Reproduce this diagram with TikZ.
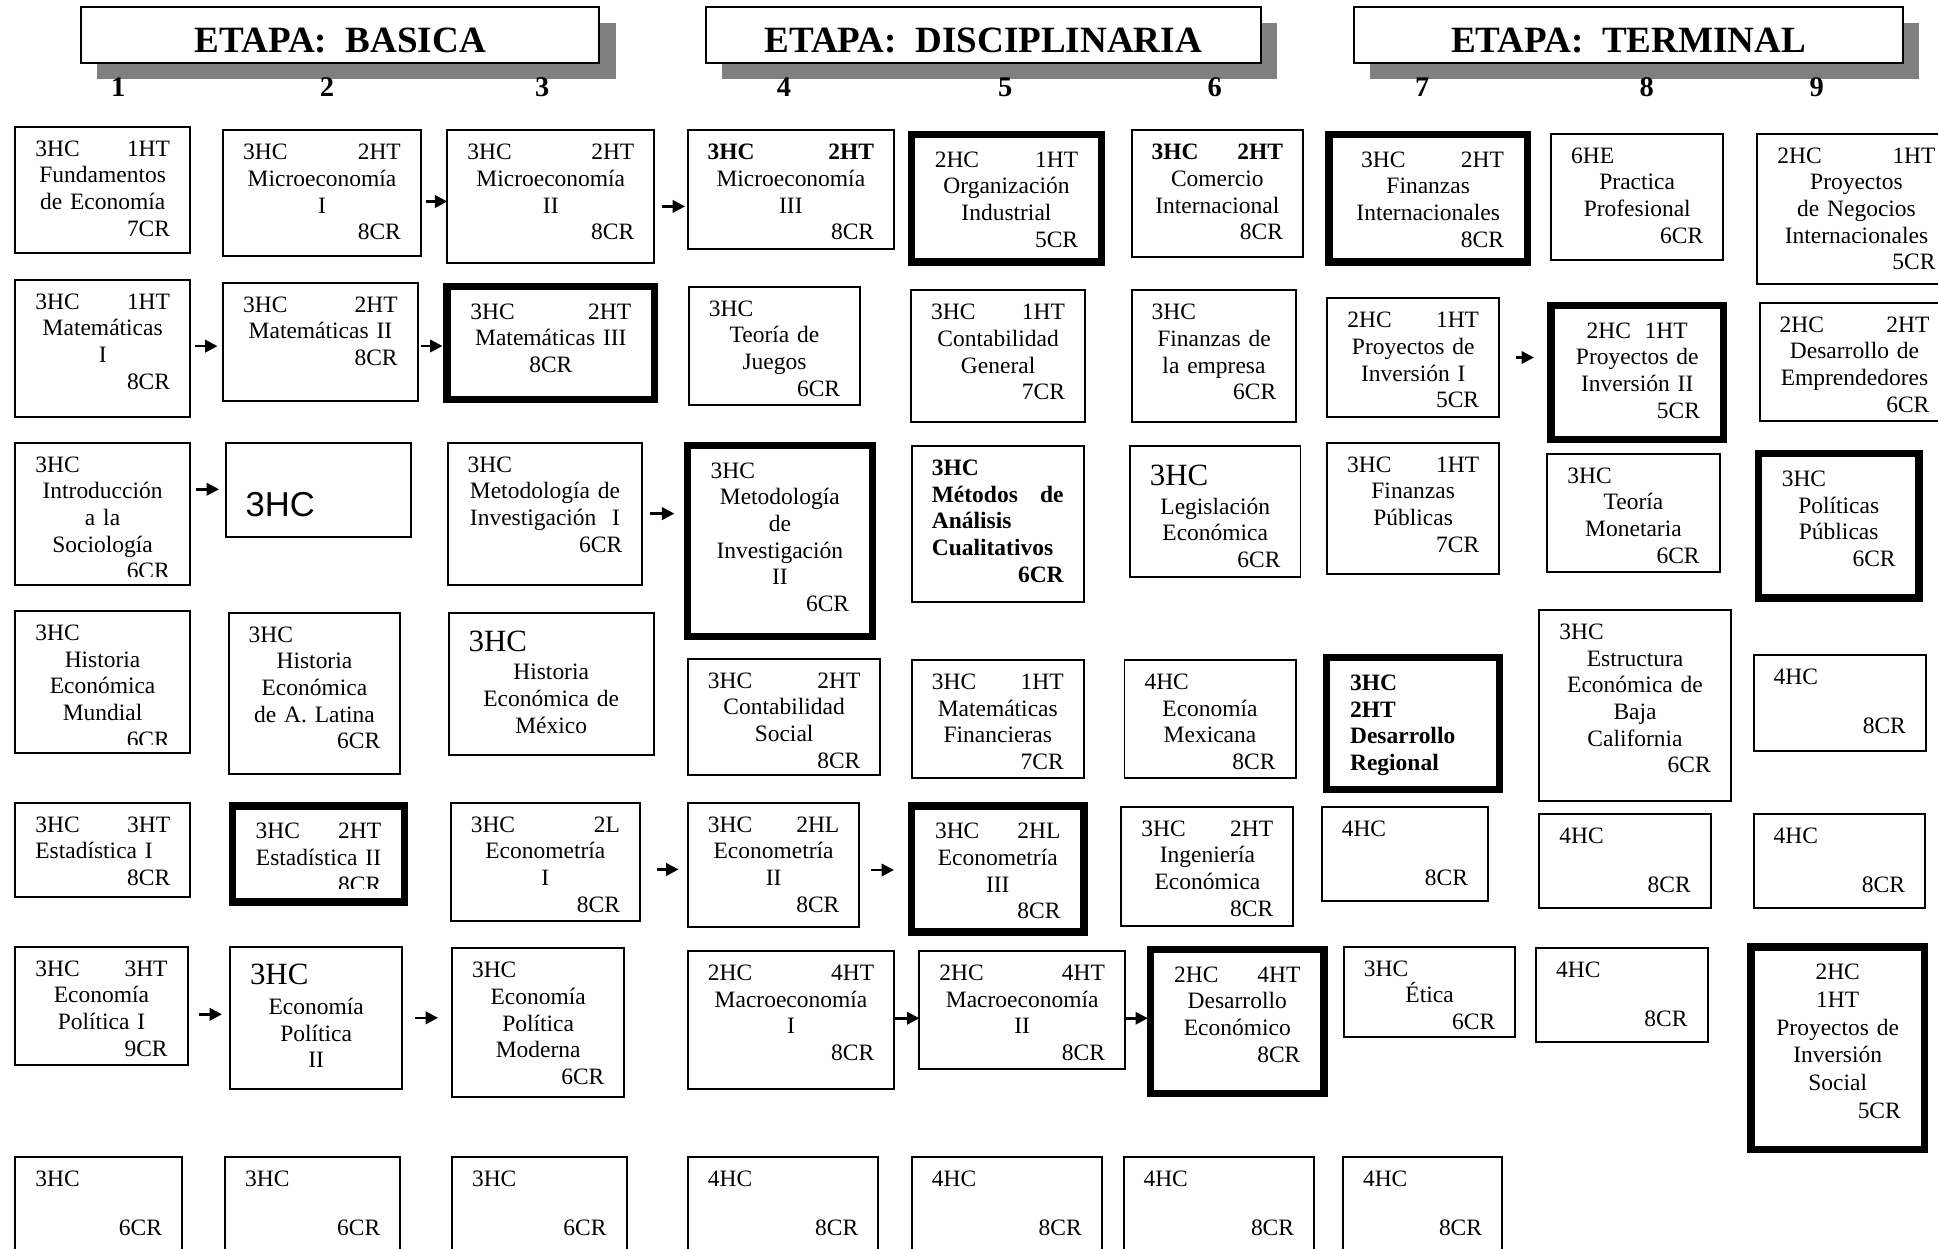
\documentclass[tikz,border=0pt]{standalone}
\usepackage{fontspec}
\setmainfont{Liberation Serif}
\setsansfont{Liberation Sans}
\usetikzlibrary{arrows.meta,shadows}
\definecolor{shadowgray}{gray}{0.5}
\hyphenpenalty=10000
\exhyphenpenalty=10000
\begin{document}
\begin{tikzpicture}[x=1pt, y=1pt,
  etapa/.style={draw, line width=1.6pt, fill=white, anchor=north west, inner sep=0pt,
    minimum height=45.3pt, text height=29pt, text depth=0pt,
    font=\bfseries\fontsize{30}{30}\selectfont,
    drop shadow={shadow xshift=13pt, shadow yshift=-13pt, fill=shadowgray, opacity=1}},
  sem/.style={anchor=base, inner sep=0pt, font=\bfseries\fontsize{23}{23}\selectfont},
  crs/.style={draw, line width=1.6pt, fill=white, anchor=north west, inner sep=0pt, outer sep=0pt,
    /utils/exec={\def\crspad{16.2pt}\def\crsdrop{11.3pt}\def\crsclip{6.5pt}}},
  heavy/.style={line width=6pt, /utils/exec={\def\crspad{19pt}\def\crsdrop{13.9pt}\def\crsclip{11pt}}},
  txt/.style={anchor=north, align=center, inner sep=0pt, outer sep=0pt, draw=none, fill=none,
    minimum width=0pt, minimum height=0pt, font=\fontsize{19}{21.6}\selectfont},
  course/.style n args={3}{crs, minimum width=#1, minimum height=#2,
    path picture={
      \pgfmathsetlengthmacro{\crstw}{#1-2*\crspad}
      \clip ([yshift=\crsclip]path picture bounding box.south west) rectangle (path picture bounding box.north east);
      \node[txt, text width=\crstw] at ([yshift=-\crsdrop]path picture bounding box.north) {#3};}},
  arr/.style={-{Triangle[length=10pt, width=10pt]}, line width=2pt}]

  \path[use as bounding box, fill=white] (0,0) rectangle (1568,-1010);

  \node[etapa, minimum width=419.4pt] (hdA) at (64.8,-4.6) {ETAPA:~~BASICA};
  \node[etapa, minimum width=449.1pt] (hdB) at (570.1,-4.6) {ETAPA:~~DISCIPLINARIA};
  \node[etapa, minimum width=444.8pt] (hdC) at (1094.4,-4.6) {ETAPA:~~TERMINAL};

  \node[sem] (s1) at (95.7,-77.7) {1};
  \node[sem] (s2) at (264.5,-77.7) {2};
  \node[sem] (s3) at (438.8,-77.7) {3};
  \node[sem] (s4) at (634.3,-77.7) {4};
  \node[sem] (s5) at (813.4,-77.7) {5};
  \node[sem] (s6) at (982.8,-77.7) {6};
  \node[sem] (s7) at (1150.6,-77.7) {7};
  \node[sem] (s8) at (1332.3,-77.7) {8};
  \node[sem] (s9) at (1469.8,-77.7) {9};

  \node[course={141.4pt}{102.2pt}{3HC\hfill 1HT\hspace*{6pt}\\ Fundamentos\\ de Economía\\ \mbox{}\hfill 7CR}] (fe) at (12.4,-102.5) {};
  \node[course={159.9pt}{102pt}{3HC\hfill 2HT\\ Microeconomía\\ I\\ \mbox{}\hfill 8CR}] (mi1) at (180.6,-105.4) {};
  \node[course={167.5pt}{107.4pt}{3HC\hfill 2HT\\ Microeconomía\\ II\\ \mbox{}\hfill 8CR}] (mi2) at (361.9,-105.4) {};
  \node[course={167.1pt}{96.1pt}{\textbf{3HC}\hfill\textbf{2HT}\hspace*{29pt}\\ Microeconomía\\ III\\ \mbox{}\hfill 8CR}] (mi3) at (556.3,-105.4) {};
  \node[course={154pt}{103.2pt}{2HC\hfill 1HT\\ Organización\\ Industrial\\ \mbox{}\hfill 5CR}, heavy] (oi) at (737.3,-108.7) {};
  \node[course={138.6pt}{102.8pt}{\textbf{3HC}\hfill\textbf{2HT}\\ Comercio\\ Internacional\\ \mbox{}\hfill 8CR}] (ci) at (915.6,-105.4) {};
  \node[course={160.6pt}{103.2pt}{\hspace*{7pt}3HC\hfill 2HT\hspace*{8pt}\\ Finanzas\\ Internacionales\\ \mbox{}\hfill 8CR}, heavy] (fi) at (1075.2,-108.7) {};
  \node[course={139.3pt}{102.3pt}{6HE\hfill\null\\ Practica\\ Profesional\\ \mbox{}\hfill 6CR}] (pp) at (1255,-108.1) {};
  \node[course={160.3pt}{121.7pt}{2HC\hfill 1HT\\ Proyectos\\ de Negocios\\ Internacionales\\ \mbox{}\hfill 5CR}] (pn) at (1421.9,-108.1) {};

  \node[course={141.4pt}{110.9pt}{3HC\hfill 1HT\hspace*{10pt}\\ Matemáticas\\ I\\ \mbox{}\hfill 8CR}] (ma1) at (12.4,-226.3) {};
  \node[course={157.3pt}{95.5pt}{3HC\hfill 2HT\\ Matemáticas~II\\ \mbox{}\hfill 8CR}] (ma2) at (180.6,-228.7) {};
  \node[course={168.1pt}{91.6pt}{3HC\hfill 2HT\\ Matemáticas~III\\ 8CR}, heavy] (ma3) at (361.6,-231.7) {};
  \node[course={138.5pt}{95.8pt}{3HC\hfill\null\\ Teoría de\\ Juegos\\ \mbox{}\hfill 6CR}] (tj) at (557.4,-231.9) {};
  \node[course={140.7pt}{106.8pt}{3HC\hfill 1HT\hspace*{5pt}\\ Contabilidad\\ General\\ \mbox{}\hfill 7CR}] (cg) at (737.2,-234.9) {};
  \node[course={133.2pt}{106.8pt}{3HC\hfill\null\\ Finanzas de\\ la empresa\\ \mbox{}\hfill 6CR}] (fem) at (915.6,-234.9) {};
  \node[course={138.9pt}{95.7pt}{2HC\hfill 1HT\\ Proyectos de\\ Inversión I\\ \mbox{}\hfill 5CR}] (pi1) at (1074,-241.4) {};
  \node[course={139.5pt}{108.6pt}{2HC\hspace{11pt}1HT\\ Proyectos~de\\ Inversión~II\\ \mbox{}\hfill 5CR}, heavy] (pi2) at (1254.9,-247.1) {};
  \node[course={153.6pt}{95.5pt}{2HC\hfill 2HT\\ Desarrollo de\\ Emprendedores\\ \mbox{}\hfill 6CR}] (de) at (1423.6,-244.9) {};

  \node[course={141.2pt}{114.9pt}{3HC\hfill\null\\ Introducción\\ a la\\ Sociología\\ \mbox{}\hfill 6CR}] (is) at (12.4,-358.1) {};
  \node[course={149.9pt}{76.1pt}{\mbox{}\\[27pt]{\sffamily\fontsize{28}{28}\selectfont 3HC}\hfill\null}] (sc) at (182.6,-358.1) {};
  \node[course={157.4pt}{114.9pt}{3HC\hfill\null\\ Metodología de\\ Investigación~~I\\ \mbox{}\hfill 6CR}] (mt1) at (362.2,-358.1) {};
  \node[course={150pt}{154.5pt}{3HC\hfill\null\\ Metodología\\ de\\ Investigación\\ II\\ \mbox{}\hfill 6CR}, heavy] (mt2) at (556,-360.3) {};
  \node[course={139.1pt}{126.5pt}{\bfseries 3HC\hfill\null\\ Métodos\hfill de\\ Análisis\hfill\null\\ Cualitativos\hfill\null\\ \mbox{}\hfill 6CR}] (mc) at (737.7,-360.8) {};
  \node[course={138pt}{106.3pt}{\rule{0pt}{21pt}{\fontsize{25}{25}\selectfont 3HC}\hfill\null\\[1.3pt] Legislación\\ Económica\\ \mbox{}\hfill 6CR}] (le) at (914.2,-360.8) {};
  \node[course={139.3pt}{106.3pt}{3HC\hfill 1HT\\ Finanzas\\ Públicas\\ \mbox{}\hfill 7CR}] (fp) at (1073.7,-358.1) {};
  \node[course={139.4pt}{96.1pt}{3HC\hfill\null\\ Teoría\\ Monetaria\\ \mbox{}\hfill 6CR}] (tm) at (1251.9,-367) {};
  \node[course={130.1pt}{116.7pt}{3HC\hfill\null\\ Políticas\\ Públicas\\ \mbox{}\hfill 6CR}, heavy] (pol) at (1422.6,-367.1) {};

  \node[course={141.2pt}{114.9pt}{3HC\hfill\null\\ Historia\\ Económica\\ Mundial\\ \mbox{}\hfill 6CR}] (hm) at (12.4,-494.3) {};
  \node[course={138.8pt}{130.5pt}{3HC\hfill\null\\ Historia\\ Económica\\ de A. Latina\\ \mbox{}\hfill 6CR}] (hl) at (185,-495.7) {};
  \node[course={166.1pt}{114.9pt}{\rule{0pt}{20pt}{\fontsize{25}{25}\selectfont 3HC}\hfill\null\\[1.5pt] Historia\\ Económica de\\ México}] (hx) at (362.9,-495.7) {};
  \node[course={155.8pt}{94.3pt}{3HC\hfill 2HT\\ Contabilidad\\ Social\\ \mbox{}\hfill 8CR}] (cs) at (556.5,-532.9) {};
  \node[course={139.1pt}{95.2pt}{3HC\hfill 1HT\hspace*{5pt}\\ Matemáticas\\ Financieras\\ \mbox{}\hfill 7CR}] (mf) at (737.7,-534) {};
  \node[course={138.4pt}{95.2pt}{4HC\hfill\null\\ Economía\\ Mexicana\\ \mbox{}\hfill 8CR}] (em) at (909.8,-534) {};
  \node[course={140.1pt}{106.8pt}{\bfseries 3HC\hfill\null\\ 2HT\hfill\null\\ Desarrollo\hfill\null\\ Regional\hfill\null}, heavy] (dr) at (1073.3,-532.1) {};
  \node[course={154.9pt}{154.3pt}{3HC\hfill\null\\ Estructura\\ Económica de\\ Baja\\ California\\ \mbox{}\hfill 6CR}] (eb) at (1245.4,-493.5) {};
  \node[course={139.4pt}{77.4pt}{4HC\hfill\null\\[18pt] \mbox{}\hfill 8CR}] (o9d) at (1418.8,-529.9) {};

  \node[course={141.5pt}{76.6pt}{3HC\hfill 3HT\\ Estadística I\hfill\null\\ \mbox{}\hfill 8CR}] (es1) at (12.4,-649.4) {};
  \node[course={139.6pt}{77.6pt}{3HC\hfill 2HT\\ Estadística~II\\ \mbox{}\hfill 8CR}, heavy] (es2) at (187.9,-652.2) {};
  \node[course={153.1pt}{96.1pt}{3HC\hfill 2L\\ Econometría\\ I\\ \mbox{}\hfill 8CR}] (ec1) at (364.7,-649.4) {};
  \node[course={138.8pt}{100.4pt}{3HC\hfill 2HL\hspace*{4pt}\\ Econometría\\ II\\ \mbox{}\hfill 8CR}] (ec2) at (556.5,-649.4) {};
  \node[course={139.5pt}{101.8pt}{3HC\hfill 2HL\\ Econometría\\ III\\ \mbox{}\hfill 8CR}, heavy] (ec3) at (737.5,-652.2) {};
  \node[course={139.1pt}{96.3pt}{3HC\hfill 2HT\\ Ingeniería\\ Económica\\ \mbox{}\hfill 8CR}] (ie) at (907.3,-652.7) {};
  \node[course={134.5pt}{76.6pt}{4HC\hfill\null\\[18pt] \mbox{}\hfill 8CR}] (o7e) at (1069.4,-652.7) {};
  \node[course={138.7pt}{76.6pt}{4HC\hfill\null\\[18pt] \mbox{}\hfill 8CR}] (o8e) at (1245.4,-658.3) {};
  \node[course={138.7pt}{76.6pt}{4HC\hfill\null\\[18pt] \mbox{}\hfill 8CR}] (o9e) at (1418.8,-658.3) {};

  \node[course={139.4pt}{95.5pt}{3HC\hfill 3HT\\ Economía\\ Política I\\ \mbox{}\hfill 9CR}] (ep1) at (12.4,-765.9) {};
  \node[course={139.4pt}{115.2pt}{\rule{0pt}{19.5pt}{\fontsize{25}{25}\selectfont 3HC}\hfill\null\\[2.5pt] Economía\\ Política\\ II}] (ep2) at (186.1,-765.9) {};
  \node[course={139.5pt}{120.6pt}{3HC\hfill\null\\ Economía\\ Política\\ Moderna\\ \mbox{}\hfill 6CR}] (epm) at (365.7,-767.3) {};
  \node[course={167pt}{111.7pt}{2HC\hfill 4HT\hspace*{16pt}\\ Macroeconomía\\ I\\ \mbox{}\hfill 8CR}] (mac1) at (556.5,-769.4) {};
  \node[course={166.3pt}{95.5pt}{2HC\hfill 4HT\\ Macroeconomía\\ II\\ \mbox{}\hfill 8CR}] (mac2) at (743.9,-769.4) {};
  \node[course={140.1pt}{116.7pt}{2HC\hfill 4HT\\ Desarrollo\\ Económico\\ \mbox{}\hfill 8CR}, heavy] (dec) at (931,-768.1) {};
  \node[course={138.7pt}{73.4pt}{3HC\hfill\null\\ Ética\\ \mbox{}\hfill 6CR}] (et) at (1087.3,-765.9) {};
  \node[course={138.7pt}{76.7pt}{4HC\hfill\null\\[18pt] \mbox{}\hfill 8CR}] (o8f) at (1242.8,-766.7) {};
  \node[course={140.1pt}{163.9pt}{2HC\\[0.8pt] 1HT\\[0.8pt] Proyectos~de\\[0.8pt] Inversión\\[0.8pt] Social\\[0.8pt] \mbox{}\hfill 5CR}, heavy] (pis) at (1416.8,-766.2) {};

  \node[course={134.9pt}{100pt}{3HC\hfill\null\\[18pt] \mbox{}\hfill 6CR}] (o1g) at (12.4,-935.8) {};
  \node[course={141.6pt}{100pt}{3HC\hfill\null\\[18pt] \mbox{}\hfill 6CR}] (o2g) at (182.2,-935.8) {};
  \node[course={141.2pt}{100pt}{3HC\hfill\null\\[18pt] \mbox{}\hfill 6CR}] (o3g) at (365.7,-935.8) {};
  \node[course={154.1pt}{100pt}{4HC\hfill\null\\[18pt] \mbox{}\hfill 8CR}] (o4g) at (556.5,-935.8) {};
  \node[course={153.7pt}{100pt}{4HC\hfill\null\\[18pt] \mbox{}\hfill 8CR}] (o5g) at (737.7,-935.8) {};
  \node[course={154.2pt}{100pt}{4HC\hfill\null\\[18pt] \mbox{}\hfill 8CR}] (o6g) at (909,-935.8) {};
  \node[course={128.7pt}{100pt}{4HC\hfill\null\\[18pt] \mbox{}\hfill 8CR}] (o7g) at (1086.6,-935.8) {};

  \path ([yshift=-6.6pt]mi1.east) edge[arr, shorten <=4.5pt] ([yshift=-6.6pt]mi1.east -| mi2.west);
  \path ([yshift=-7.9pt]mi2.east) edge[arr, shorten <=6.6pt, shorten >=2pt] ([yshift=-7.9pt]mi2.east -| mi3.west);
  \path ([yshift=1.7pt]ma1.east) edge[arr, shorten <=4pt, shorten >=4.6pt] ([yshift=1.7pt]ma1.east -| ma2.west);
  \path ([yshift=-3.5pt]ma2.east) edge[arr, shorten <=3pt, shorten >=3.6pt] ([yshift=-3.5pt]ma2.east -| ma3.west);
  \path ([yshift=19.7pt]is.east) edge[arr, shorten <=5pt, shorten >=5.4pt] ([yshift=19.7pt]is.east -| sc.west);
  \path (mt1.east) edge[arr, shorten <=6.4pt, shorten >=10.4pt] (mt1.east -| mt2.west);
  \path (pi1.east) edge[arr, shorten <=13.4pt, shorten >=13.8pt] (pi1.east -| pi2.west);
  \path ([yshift=-6pt]ec1.east) edge[arr, shorten <=13.8pt, shorten >=7.5pt] ([yshift=-6pt]ec1.east -| ec2.west);
  \path ([yshift=-4.3pt]ec2.east) edge[arr, shorten <=9.3pt, shorten >=14.2pt] ([yshift=-4.3pt]ec2.east -| ec3.west);
  \path ([yshift=-7pt]ep1.east) edge[arr, shorten <=8.9pt, shorten >=6.5pt] ([yshift=-7pt]ep1.east -| ep2.west);
  \path (ep2.east) edge[arr, shorten <=10.6pt, shorten >=11.3pt] (ep2.east -| epm.west);
  \path ([yshift=1.4pt]mac1.east) edge[arr] ([yshift=1.4pt]mac1.east -| mac2.west);
  \path ([yshift=-6.7pt]mac2.east) edge[arr, shorten >=2.3pt] ([yshift=-6.7pt]mac2.east -| dec.west);
\end{tikzpicture}
\end{document}
